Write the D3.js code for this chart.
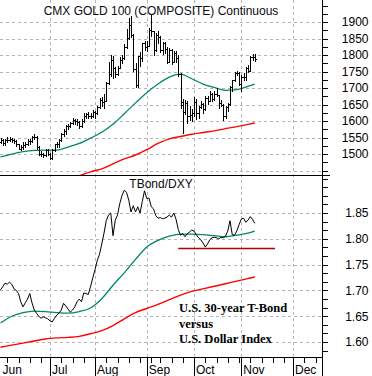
<!DOCTYPE html>
<html><head><meta charset="utf-8">
<script src="https://cdn.jsdelivr.net/npm/d3@7"></script>
<style>body{margin:0;background:#fff}svg{display:block}</style>
</head><body><svg id="c" width="372" height="376"></svg>
<script>
// ---- data (trading-day index 0 = Jun 1) ----
const goldOpen = [1536,1541,1533,1543,1543,1545,1541,1540,1530,1516,
1521,1527,1531,1539,1540,1552,1553,1521,1500,1501,
1496,1511,1500,1488,1513,1529,1530,1542,1561,1569,
1585,1585,1594,1602,1601,1598,1586,1601,1614,1620,
1616,1614,1628,1623,1643,1665,1658,1660,1714,1743,
1784,1760,1743,1762,1785,1791,1823,1852,1891,1861,
1757,1708,1796,1791,1835,1825,1828,1876,1873,1816,
1862,1856,1815,1835,1819,1780,1815,1779,1807,1790,
1741,1650,1627,1654,1616,1617,1624,1658,1623,1641,
1651,1635,1670,1662,1682,1667,1683,1678,1656,1650,
1615,1642,1652,1702,1723,1745,1747,1712,1734,1733,
1761,1753,1794,1795];
const goldHigh = [1549,1544,1547,1551,1551,1550,1547,1543,1531,1527,
1535,1537,1544,1545,1555,1561,1555,1525,1508,1504,
1515,1515,1502,1516,1531,1535,1545,1563,1576,1588,
1590,1596,1609,1605,1605,1600,1605,1623,1625,1627,
1624,1633,1631,1645,1670,1672,1682,1717,1778,1801,
1796,1765,1767,1793,1800,1832,1880,1911,1917,1863,
1777,1797,1810,1837,1841,1843,1882,1923,1874,1866,
1872,1858,1838,1839,1823,1820,1817,1812,1812,1800,
1745,1668,1665,1660,1645,1635,1673,1666,1645,1660,
1655,1675,1675,1690,1685,1690,1699,1680,1665,1652,
1645,1656,1705,1725,1750,1752,1749,1738,1745,1764,
1770,1796,1803,1802];
const goldLow = [1533,1526,1528,1537,1540,1536,1533,1525,1514,1513,
1516,1521,1527,1531,1537,1545,1516,1496,1494,1491,
1494,1497,1484,1486,1510,1520,1520,1540,1555,1562,
1576,1581,1592,1592,1589,1578,1583,1598,1609,1608,
1610,1612,1610,1620,1640,1646,1640,1660,1712,1735,
1730,1733,1738,1761,1775,1789,1820,1850,1855,1751,
1702,1704,1767,1783,1815,1812,1827,1859,1800,1812,
1836,1810,1803,1806,1775,1778,1773,1778,1780,1735,
1640,1565,1620,1595,1603,1600,1614,1607,1610,1638,
1625,1632,1652,1660,1662,1665,1675,1640,1645,1604,
1610,1630,1650,1690,1720,1738,1708,1690,1725,1725,
1750,1752,1784,1781];
const goldClose = [1541,1533,1543,1543,1545,1541,1540,1530,1516,1521,
1527,1531,1539,1540,1552,1553,1521,1500,1501,1496,
1511,1500,1488,1513,1529,1530,1542,1561,1569,1585,
1585,1594,1602,1601,1598,1586,1601,1614,1620,1616,
1614,1628,1623,1643,1665,1658,1660,1714,1743,1784,
1760,1743,1762,1785,1791,1823,1852,1891,1861,1757,
1708,1796,1791,1835,1825,1828,1876,1873,1816,1862,
1856,1815,1835,1819,1780,1815,1779,1807,1790,1741,
1657,1627,1654,1616,1617,1624,1658,1623,1641,1651,
1635,1670,1662,1682,1667,1683,1678,1656,1650,1615,
1642,1652,1702,1723,1745,1747,1712,1734,1733,1761,
1753,1794,1795,1788];
const ratio = [1.701,1.707,1.714,1.712,1.716,1.712,1.703,1.700,1.694,1.678,
1.668,1.676,1.683,1.694,1.676,1.662,1.656,1.650,1.646,1.649,
1.647,1.645,1.641,1.639,1.646,1.652,1.656,1.662,1.675,1.670,
1.664,1.658,1.662,1.668,1.678,1.683,1.678,1.695,1.694,1.692,
1.707,1.724,1.740,1.758,1.770,1.790,1.811,1.835,1.846,1.850,
1.806,1.836,1.846,1.868,1.884,1.894,1.890,1.875,1.852,1.864,
1.852,1.862,1.850,1.872,1.893,1.878,1.879,1.862,1.858,1.845,
1.840,1.841,1.839,1.840,1.842,1.846,1.842,1.850,1.838,1.818,
1.807,1.810,1.804,1.810,1.813,1.817,1.815,1.808,1.802,1.798,
1.792,1.784,1.790,1.798,1.802,1.803,1.802,1.800,1.803,1.802,
1.805,1.815,1.835,1.808,1.807,1.815,1.827,1.838,1.840,1.832,
1.836,1.843,1.838,1.830];
const maIdx = [0,5,10,15,20,25,30,35,40,45,50,55,60,65,70,75,80,85,90,95,100,105,110,113];
const goldMAshort = [1491,1500,1507,1511,1512,1512,1521,1532,1548,1566,1590,1622,1655,1686,1712,1733,1742,1728,1712,1702,1693,1695,1705,1712];
const goldMAlongIdx = [35,40,45,50,55,60,65,70,75,80,85,90,95,100,105,110,113];
const goldMAlong = [1434,1446,1455,1470,1485,1497,1513,1532,1546,1553,1560,1565,1570,1577,1583,1590,1594];
const ratioMAshort = [1.637,1.650,1.657,1.660,1.659,1.657,1.656,1.659,1.666,1.684,1.710,1.734,1.760,1.784,1.797,1.805,1.809,1.809,1.808,1.806,1.804,1.807,1.811,1.815];
const ratioMAlong = [1.590,1.594,1.598,1.602,1.606,1.608,1.609,1.611,1.616,1.622,1.632,1.645,1.657,1.665,1.673,1.682,1.691,1.698,1.703,1.708,1.713,1.718,1.723,1.726];
const supportLine = {from: 79, to: 122, value: 1.782};
const monthLabels = ['Jun','Jul','Aug','Sep','Oct','Nov','Dec'];
const monthStart = [0,22,42,65,86,107,130];
const weekTicks = [3,8,13,18,27,32,37,47,52,57,62,67,71,76,81,91,96,101,106,111,116,121,126,135,140];
const goldTicks = [1500,1550,1600,1650,1700,1750,1800,1850,1900];
const goldGrid = [1450,1500,1550,1600,1650,1700,1750,1800,1850,1900];
const ratioTicks = [1.60,1.65,1.70,1.75,1.80,1.85];
const titleTop = 'CMX GOLD 100 (COMPOSITE) Continuous';
const titleBottom = 'TBond/DXY';
const note = ['U.S. 30-year T-Bond','versus','U.S. Dollar Index'];

// ---- layout ----
const svg = d3.select('#c');
const R = 322, TOPB = 175, BOTB = 357;
const x = d3.scaleLinear().domain([0,143]).range([0.5,322.25]);
const yT = d3.scaleLinear().domain([1436.4,1966.7]).range([TOPB,0]);
const yB = d3.scaleLinear().domain([1.571,1.9236]).range([BOTB,TOPB]);
const px = v => Math.round(v)+0.5;
const FONT = '"Liberation Sans", Arial, sans-serif';

const defs = svg.append('defs');
defs.append('clipPath').attr('id','ct').append('rect').attr('x',0).attr('y',0).attr('width',R).attr('height',TOPB);
defs.append('clipPath').attr('id','cb').append('rect').attr('x',0).attr('y',TOPB).attr('width',R).attr('height',BOTB-TOPB);

// grid
const grid = svg.append('g').attr('stroke','#b4b4b4').attr('stroke-dasharray','3,3').attr('shape-rendering','crispEdges');
goldGrid.forEach(v=>grid.append('line').attr('x1',0).attr('x2',R).attr('y1',px(yT(v))).attr('y2',px(yT(v))));
ratioTicks.forEach(v=>grid.append('line').attr('x1',0).attr('x2',R).attr('y1',px(yB(v))).attr('y2',px(yB(v))));
monthStart.forEach(i=>{ if(x(i)>3) grid.append('line').attr('x1',px(x(i))).attr('x2',px(x(i))).attr('y1',0).attr('y2',BOTB); });

// top panel
const gT = svg.append('g').attr('clip-path','url(#ct)');
const lineT = d3.line().x(d=>x(d[0])).y(d=>yT(d[1])).curve(d3.curveMonotoneX);
gT.append('path').attr('d',lineT(goldMAlongIdx.map((i,k)=>[i,goldMAlong[k]]))).attr('fill','none').attr('stroke','#ff0000').attr('stroke-width',1.4);
gT.append('path').attr('d',lineT(maIdx.map((i,k)=>[i,goldMAshort[k]]))).attr('fill','none').attr('stroke','#00876a').attr('stroke-width',1.3);
let bp = '';
goldClose.forEach((c,i)=>{
  const xx = px(x(i));
  bp += `M${xx},${Math.round(yT(goldHigh[i]))}V${Math.round(yT(goldLow[i]))+1}`;
  bp += `M${xx-1.5},${px(yT(goldOpen[i]))}H${xx}`;
  bp += `M${xx},${px(yT(c))}H${xx+1.5}`;
});
gT.append('path').attr('d',bp).attr('fill','none').attr('stroke','#000').attr('stroke-width',1).attr('shape-rendering','crispEdges');

// bottom panel
const gB = svg.append('g').attr('clip-path','url(#cb)');
const lineB = d3.line().x(d=>x(d[0])).y(d=>yB(d[1]));
const lineBs = d3.line().x(d=>x(d[0])).y(d=>yB(d[1])).curve(d3.curveMonotoneX);
gB.append('path').attr('d',lineBs(maIdx.map((i,k)=>[i,ratioMAlong[k]]))).attr('fill','none').attr('stroke','#ff0000').attr('stroke-width',1.4);
gB.append('path').attr('d',lineBs(maIdx.map((i,k)=>[i,ratioMAshort[k]]))).attr('fill','none').attr('stroke','#00876a').attr('stroke-width',1.3);
gB.append('line').attr('x1',x(supportLine.from)).attr('x2',x(supportLine.to)).attr('y1',px(yB(supportLine.value))).attr('y2',px(yB(supportLine.value))).attr('stroke','#b00000').attr('stroke-width',1.3);
gB.append('path').attr('d',lineB(ratio.map((v,i)=>[i,v]))).attr('fill','none').attr('stroke','#000').attr('stroke-width',1);

// frame lines
const fr = svg.append('g').attr('stroke','#000').attr('shape-rendering','crispEdges');
fr.append('line').attr('x1',0).attr('x2',R+8).attr('y1',TOPB+0.5).attr('y2',TOPB+0.5);
fr.append('line').attr('x1',0).attr('x2',R).attr('y1',BOTB+0.5).attr('y2',BOTB+0.5);
fr.append('line').attr('x1',R+0.5).attr('x2',R+0.5).attr('y1',0).attr('y2',376);

// right axes
const axT = d3.axisRight(yT).tickValues(d3.range(1450,1976,25)).tickSize(5).tickFormat(d=>goldTicks.includes(d)?d:'');
const aT = svg.append('g').attr('transform',`translate(${R+0.5},0)`).call(axT);
const axB = d3.axisRight(yB).tickValues(d3.range(-1,20).map(k=>1.60+k*0.05/3).filter(v=>v>1.575&&v<1.92)).tickSize(5)
  .tickFormat(d=>{const r=ratioTicks.find(t=>Math.abs(t-d)<1e-6); return r!==undefined? d3.format('.2f')(r):'';});
const aB = svg.append('g').attr('transform',`translate(${R+0.5},0)`).call(axB);
[aT,aB].forEach(a=>{
  a.select('.domain').remove();
  a.selectAll('line').attr('shape-rendering','crispEdges');
  a.selectAll('text').attr('x',46).attr('text-anchor','end').attr('font-family',FONT).attr('font-size',12).attr('fill','#000');
});

// bottom axis
const ab = svg.append('g').attr('stroke','#000').attr('shape-rendering','crispEdges');
weekTicks.forEach(i=>{ if(x(i)<R-1) ab.append('line').attr('x1',px(x(i))).attr('x2',px(x(i))).attr('y1',BOTB).attr('y2',BOTB+6); });
monthStart.forEach(i=>{ if(x(i)>3) ab.append('line').attr('x1',px(x(i))).attr('x2',px(x(i))).attr('y1',BOTB).attr('y2',376); });
svg.append('g').selectAll('text').data(monthLabels).join('text')
  .attr('x',(d,k)=>Math.max(2,x(monthStart[k])+2)).attr('y',374)
  .attr('font-family',FONT).attr('font-size',12).attr('fill','#000').text(d=>d);

// titles
svg.append('text').attr('x',161).attr('y',15).attr('text-anchor','middle').attr('font-family',FONT).attr('font-size',12).attr('fill','#0a0a14').text(titleTop);
svg.append('text').attr('x',161).attr('y',188).attr('text-anchor','middle').attr('font-family',FONT).attr('font-size',12).attr('fill','#0a0a14').text(titleBottom);
svg.append('g').selectAll('text').data(note).join('text')
  .attr('x',179).attr('y',(d,k)=>312+k*15.5)
  .attr('font-family','"Liberation Serif", "Times New Roman", serif').attr('font-weight','bold').attr('font-size',12.5).attr('fill','#000').text(d=>d);
</script></body></html>
